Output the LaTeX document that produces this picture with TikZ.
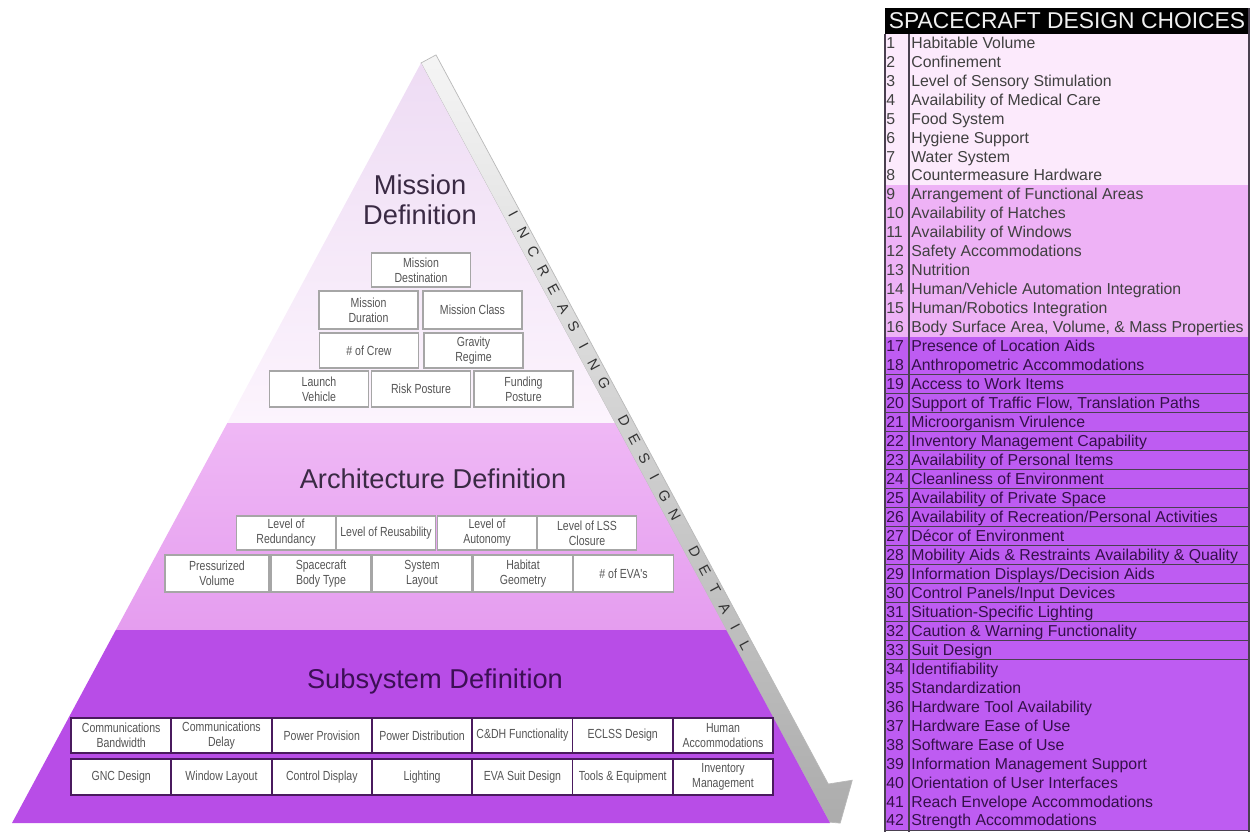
\documentclass[tikz,border=0pt]{standalone}
\usepackage{fontspec}
\setmainfont{Liberation Sans}
\newfontfamily\narrowfont[FakeStretch=0.8]{Liberation Sans}
\usepackage{tikz}
\definecolor{misstop}{HTML}{EEDCF4}
\definecolor{missbot}{HTML}{FCF4FD}
\definecolor{archtop}{HTML}{EFB8F5}
\definecolor{archbot}{HTML}{E59DEF}
\definecolor{subfill}{HTML}{B84DE7}
\definecolor{rowa}{HTML}{FCEAFC}
\definecolor{rowb}{HTML}{EEB2F6}
\definecolor{rowc}{HTML}{BE5CF2}
\definecolor{rowink}{HTML}{35104A}
\definecolor{titletext}{HTML}{3A2A44}
\definecolor{subtitletext}{HTML}{3C0F55}
\definecolor{boxtext}{HTML}{555555}
\definecolor{subedge}{HTML}{4A1A5E}
\definecolor{gridline}{HTML}{4A4050}

\begin{document}
\begin{tikzpicture}[x=0.2mm, y=-0.2mm,
                choice/.style={draw=gray!70, fill=white, line width=0.6pt, inner sep=0pt, align=center, text=boxtext,
                    font=\narrowfont\fontsize{7.5}{8.5}\selectfont, minimum width=19.8mm, minimum height=7.2mm},
                subchoice/.style={choice, draw=subedge, line width=0.9pt, minimum width=20mm, minimum height=7.1mm},
                layertitle/.style={text=titletext, font=\fontsize{15.5}{17}\selectfont, align=center},
                item/.style={anchor=base west, inner sep=0pt, font=\fontsize{9}{10}\selectfont}]
                \useasboundingbox (0,0) rectangle (1250,832);

                \shade[top color=gray!8, bottom color=gray!65, draw=gray!55, line width=0.4pt]
                    (421,63) -- (436,54.9) -- (828.3,784) -- (852.3,780.2) -- (840.2,823.1) -- (829.4,822.1) -- cycle;
                \shade[top color=misstop, bottom color=missbot] (421,63) -- (614.7,423) -- (227.3,423) -- cycle;
                \shade[top color=archtop, bottom color=archbot] (227.3,423) -- (614.7,423) -- (726.2,630) -- (115.8,630) -- cycle;
                \fill[subfill] (115.8,630) -- (726.2,630) -- (830,823) -- (12,823) -- cycle;

                \foreach \c [count=\k, evaluate=\k as \a using 177+(\k-1)*21.3] in {I,N,C,R,E,A,S,I,N,G,{},D,E,S,I,G,N,{},D,E,T,A,I,L}
                    \node[rotate=-61.7, text=black!80, font=\fontsize{8.3}{9}\selectfont, inner sep=0pt] (detail\k)
                        at ({429.3+\a*0.4738},{58.4+\a*0.8806}) {\c};

                \node[layertitle] (mission) at (420,200) {Mission\\Definition};
                \node[layertitle] (architecture) at (433,479) {Architecture Definition};
                \node[layertitle, text=subtitletext] (subsystem) at (435,681) {Subsystem Definition};

                \node[choice, minimum height=6.8mm] (destination) at (421,270) {Mission\\Destination};
                \node[choice, minimum height=7.6mm] (duration) at (368.5,310) {Mission\\Duration};
                \node[choice, minimum height=7.6mm] (class) at (472.5,310) {Mission Class};
                \node[choice, minimum height=7mm] (crew) at (369,350.5) {\# of Crew};
                \node[choice, minimum height=7mm] (gravity) at (473.5,350.5) {Gravity\\Regime};
                \node[choice] (launch) at (319,389) {Launch\\Vehicle};
                \node[choice] (risk) at (421,389) {Risk Posture};
                \node[choice] (funding) at (523.5,389) {Funding\\Posture};

                \node[choice, minimum height=6.8mm] (redundancy) at (286,533) {Level of\\Redundancy};
                \node[choice, minimum height=6.8mm] (reusability) at (386,533) {Level of Reusability};
                \node[choice, minimum height=6.8mm] (autonomy) at (487,533) {Level of\\Autonomy};
                \node[choice, minimum height=6.8mm] (closure) at (587,533) {Level of LSS\\Closure};
                \node[choice, minimum width=20.8mm, minimum height=7.4mm] (volume) at (217,573.5) {Pressurized\\Volume};
                \node[choice, minimum width=20mm, minimum height=7.4mm] (bodytype) at (321,573.5) {Spacecraft\\Body Type};
                \node[choice, minimum width=20mm, minimum height=7.4mm] (layout) at (422,573.5) {System\\Layout};
                \node[choice, minimum width=20mm, minimum height=7.4mm] (geometry) at (523,573.5) {Habitat\\Geometry};
                \node[choice, minimum width=20mm, minimum height=7.4mm] (evas) at (623.5,573.5) {\# of EVA's};

                \foreach \txt [count=\i, evaluate=\i as \xc using 121.2+(\i-1)*100.3] in
                    {Communications\\Bandwidth, Communications\\Delay, Power Provision, Power Distribution,
                     C\&DH Functionality, ECLSS Design, Human\\Accommodations}
                    \node[subchoice] (upper\i) at (\xc,735.5) {\txt};
                \foreach \txt [count=\i, evaluate=\i as \xc using 121.2+(\i-1)*100.3] in
                    {GNC Design, Window Layout, Control Display, Lighting,
                     EVA Suit Design, Tools \& Equipment, Inventory\\Management}
                    \node[subchoice, minimum height=7.3mm] (lower\i) at (\xc,777) {\txt};

                \fill[black] (885,8) rectangle (1249,33.5);
                \node[text=white!94!black, font=\fontsize{13}{14}\selectfont, inner sep=0pt] (header) at (1067,21) {SPACECRAFT DESIGN CHOICES};
                \foreach \txt [count=\i, evaluate=\i as \yc using 43+(\i-1)*18.97] in
                    {Habitable Volume, Confinement, Level of Sensory Stimulation, Availability of Medical Care,
                     Food System, Hygiene Support, Water System, Countermeasure Hardware,
                     Arrangement of Functional Areas, Availability of Hatches, Availability of Windows,
                     Safety Accommodations, Nutrition, Human/Vehicle Automation Integration,
                     Human/Robotics Integration, {Body Surface Area, Volume, \& Mass Properties},
                     Presence of Location Aids, Anthropometric Accommodations, Access to Work Items,
                     {Support of Traffic Flow, Translation Paths}, Microorganism Virulence,
                     Inventory Management Capability, Availability of Personal Items, Cleanliness of Environment,
                     Availability of Private Space, Availability of Recreation/Personal Activities,
                     Décor of Environment, Mobility Aids \& Restraints Availability \& Quality,
                     Information Displays/Decision Aids, Control Panels/Input Devices, Situation-Specific Lighting,
                     Caution \& Warning Functionality, Suit Design, Identifiability, Standardization,
                     Hardware Tool Availability, Hardware Ease of Use, Software Ease of Use,
                     Information Management Support, Orientation of User Interfaces,
                     Reach Envelope Accommodations, Strength Accommodations}{
                    \ifnum\i<9 \def\rowcol{rowa}\def\ink{black!75}\else
                        \ifnum\i<17 \def\rowcol{rowb}\def\ink{black!75}\else\def\rowcol{rowc}\def\ink{rowink}\fi\fi
                    \fill[\rowcol] (885,\yc-9.5) rectangle (1249,\yc+9.5);
                    \node[item, text=\ink] (num\i) at (886,\yc+5.2) {\i};
                    \node[item, text=\ink] (choice\i) at (911,\yc+5.2) {\txt};
                    \draw[gridline, line width=0.6pt] (885,\yc+9.5) -- (1249,\yc+9.5);
                }
                \draw[gridline, line width=0.6pt] (885,33.5) -- (885,832) (909,33.5) -- (909,832) (1249,8) -- (1249,832);
            \end{tikzpicture}
\end{document}
